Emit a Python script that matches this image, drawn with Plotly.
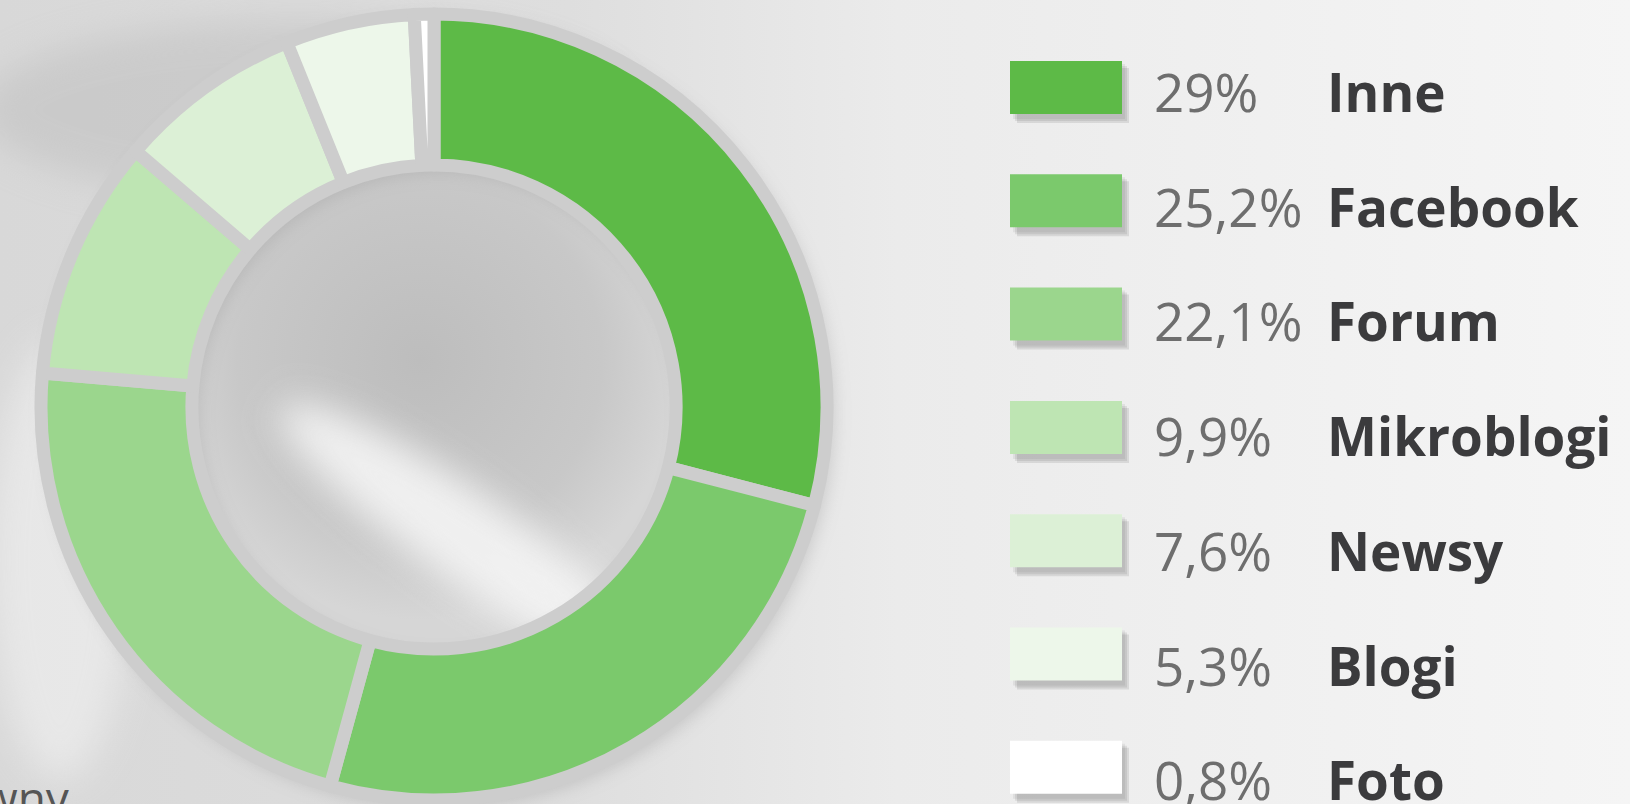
import base64
import plotly.graph_objects as go

# ---- data ----
categories = ["Inne", "Facebook", "Forum", "Mikroblogi", "Newsy", "Blogi", "Foto"]
values = [29.0, 25.2, 22.1, 9.9, 7.6, 5.3, 0.8]
value_labels = ["29%", "25,2%", "22,1%", "9,9%", "7,6%", "5,3%", "0,8%"]
colors = ["#5dba47", "#7bc96c", "#9bd68d", "#bee5b3", "#dcf0d6", "#edf7ea", "#ffffff"]

W, H = 1630, 804

# ---- background (soft gray backdrop) ----
svg = f'''<svg xmlns="http://www.w3.org/2000/svg" width="{W}" height="{H}" viewBox="0 0 {W} {H}">
<defs>
<linearGradient id="g" x1="0" y1="0" x2="1" y2="0">
<stop offset="0" stop-color="#d8d8d8"/><stop offset="0.35" stop-color="#dedede"/>
<stop offset="0.55" stop-color="#ebebeb"/><stop offset="1" stop-color="#f5f5f5"/></linearGradient>
<radialGradient id="h" cx="420" cy="360" r="260" gradientUnits="userSpaceOnUse">
<stop offset="0" stop-color="#bdbdbd"/><stop offset="0.7" stop-color="#c8c8c8"/><stop offset="1" stop-color="#d6d6d6"/></radialGradient>
<filter id="b" x="-50%" y="-50%" width="200%" height="200%"><feGaussianBlur stdDeviation="9"/></filter>
<filter id="b2" x="-50%" y="-50%" width="200%" height="200%"><feGaussianBlur stdDeviation="18"/></filter>
</defs>
<rect width="{W}" height="{H}" fill="url(#g)"/>
<ellipse cx="300" cy="110" rx="320" ry="90" fill="#bdbdbd" opacity="0.5" filter="url(#b2)"/>
<ellipse cx="60" cy="560" rx="70" ry="220" fill="#f2f2f2" opacity="0.6" filter="url(#b2)"/>
<circle cx="434" cy="407" r="255" fill="url(#h)"/>
<ellipse cx="470" cy="540" rx="230" ry="45" transform="rotate(35 470 540)" fill="#f4f4f4" opacity="0.9" filter="url(#b2)"/>
<circle cx="440" cy="414" r="318" fill="none" stroke="#8a8a8a" stroke-width="150" opacity="0.35" filter="url(#b)"/>
</svg>'''
bg_src = "data:image/svg+xml;base64," + base64.b64encode(svg.encode()).decode()

fig = go.Figure()

# donut geometry (pixels)
cx, cy, R = 434, 407, 393
fig.add_trace(go.Pie(
    labels=categories,
    values=values,
    sort=False,
    direction="clockwise",
    rotation=0,
    hole=0.616,
    marker=dict(colors=colors, line=dict(color="#cdcdcd", width=13)),
    textinfo="none",
    hoverinfo="label+percent",
    showlegend=False,
    domain=dict(x=[(cx - R) / W, (cx + R) / W], y=[1 - (cy + R) / H, 1 - (cy - R) / H]),
))

# ---- custom legend ----
shapes = []
annotations = []
rx0, rw, rh = 1010, 112, 53
row0, step = 61, 113.3
for i, (cat, lab, col) in enumerate(zip(categories, value_labels, colors)):
    top = row0 + i * step
    # soft shadow
    for k, op in enumerate([0.08, 0.10, 0.12]):
        d = 3 + 2 * k
        shapes.append(dict(type="rect", xref="paper", yref="paper",
                           x0=(rx0 + d) / W, x1=(rx0 + rw + d) / W,
                           y0=1 - (top + rh + d + 2) / H, y1=1 - (top + d) / H,
                           fillcolor=f"rgba(60,60,60,{op})", line=dict(width=0), layer="below"))
    shapes.append(dict(type="rect", xref="paper", yref="paper",
                       x0=rx0 / W, x1=(rx0 + rw) / W,
                       y0=1 - (top + rh) / H, y1=1 - top / H,
                       fillcolor=col, line=dict(width=0), layer="above"))
    yc = 1 - (top + rh / 2 + 4 + 1.4 * i) / H
    annotations.append(dict(x=1152 / W, y=yc, xref="paper", yref="paper",
                            xanchor="left", yanchor="middle", showarrow=False,
                            text=lab,
                            font=dict(family="Open Sans", size=53, color="#6e6e6e", weight=400)))
    annotations.append(dict(x=1325 / W, y=yc, xref="paper", yref="paper",
                            xanchor="left", yanchor="middle", showarrow=False,
                            text=f"<b>{cat}</b>",
                            font=dict(family="Open Sans", size=53, color="#3b3b3d")))

# clipped text at bottom-left (as in the reference)
annotations.append(dict(x=-20 / W, y=1 - 764 / H, xref="paper", yref="paper",
                        xanchor="left", yanchor="top", showarrow=False,
                        text="wny", font=dict(family="Open Sans", size=46, color="#555555")))

fig.update_layout(
    width=W, height=H,
    margin=dict(l=0, r=0, t=0, b=0),
    paper_bgcolor="#e6e6e6",
    plot_bgcolor="rgba(0,0,0,0)",
    shapes=shapes,
    annotations=annotations,
    images=[dict(source=bg_src, xref="paper", yref="paper", x=0, y=1,
                 sizex=1, sizey=1, sizing="stretch", layer="below", xanchor="left", yanchor="top")],
)

fig.write_html("out.html", config={"displayModeBar": False},
               post_script="document.body.style.margin='0';document.body.style.overflow='hidden';")
